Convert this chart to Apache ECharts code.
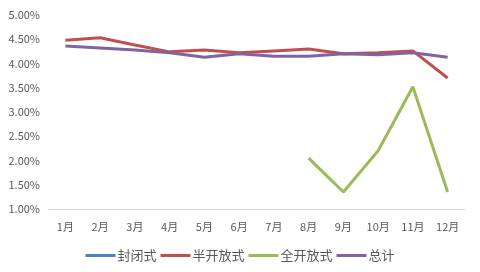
<!DOCTYPE html>
<html><head><meta charset="utf-8">
<script src="https://cdn.jsdelivr.net/npm/echarts@6/dist/echarts.min.js"></script>
<style>html,body{margin:0;padding:0;background:#fff}#c{width:480px;height:272px}</style>
</head><body><div id="c"></div>
<script>
var categories = ['1月','2月','3月','4月','5月','6月','7月','8月','9月','10月','11月','12月'];
var closed = [4.36,4.32,4.28,4.22,4.13,4.19,4.15,4.15,4.22,4.18,4.22,4.22];
var semiOpen = [4.48,4.53,4.38,4.24,4.28,4.22,4.26,4.30,4.20,4.22,4.26,3.70];
var fullOpen = [null,null,null,null,null,null,null,2.05,1.35,2.20,3.52,1.35];
var total = [4.36,4.32,4.28,4.22,4.13,4.20,4.15,4.15,4.20,4.18,4.22,4.13];
var names = ['封闭式','半开放式','全开放式','总计'];
var colors = ['#4F81BD','#C0504D','#9BBB59','#8064A2'];
var font = '"Noto Sans CJK SC", sans-serif';
var chart = echarts.init(document.getElementById('c'));
var data = [closed, semiOpen, fullOpen, total];
chart.setOption({
  animation:false,
  color: colors,
  grid:{left:48,right:15,top:15,bottom:63},
  legend:{bottom:5,left:'center',itemWidth:30,itemHeight:3,itemGap:4,icon:'rect',
    textStyle:{fontFamily:font,fontSize:13,color:'#595959',padding:[0,0,0,-3]},data:names},
  xAxis:{type:'category',data:categories,boundaryGap:true,
    axisLine:{lineStyle:{color:'#D9D9D9',width:1}},axisTick:{show:false},
    axisLabel:{fontFamily:font,fontSize:11,color:'#595959',margin:12}},
  yAxis:{type:'value',min:1,max:5,interval:0.5,
    axisLine:{show:false},axisTick:{show:false},splitLine:{show:false},
    axisLabel:{fontFamily:font,fontSize:11,color:'#595959',margin:8,
      formatter:function(v){return v.toFixed(2)+'%';}}},
  series: names.map(function(n,i){return {name:n,type:'line',data:data[i],
    symbol:'none',lineStyle:{width:3,color:colors[i]},connectNulls:false,z:i===3?5:2};})
});
</script></body></html>
